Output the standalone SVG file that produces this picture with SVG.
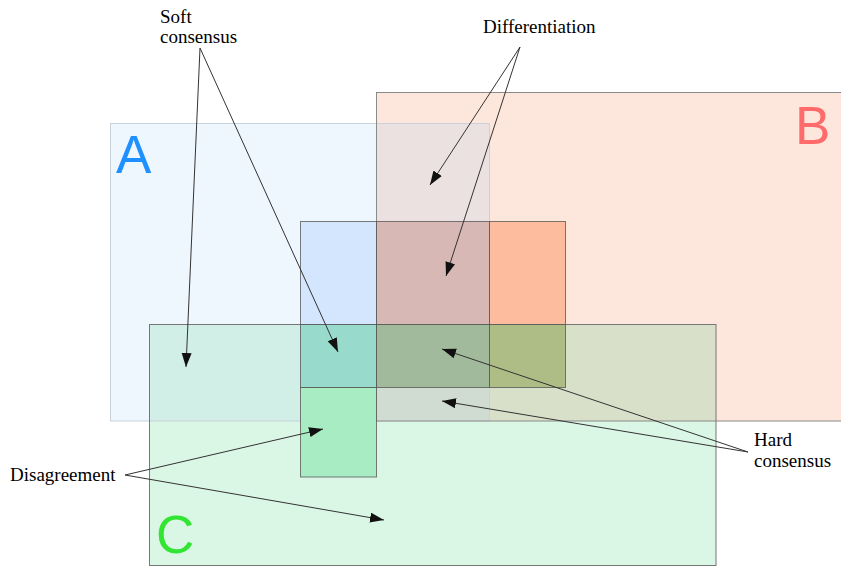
<svg xmlns="http://www.w3.org/2000/svg" width="841" height="568" viewBox="0 0 841 568">
<defs>
<style>
.lbl{font-family:"Liberation Serif","Times New Roman",serif;font-size:19px;fill:#000}
.big{font-family:"Liberation Sans",Arial,sans-serif;font-size:53px}
.edge{fill:none;stroke-width:1}
.cell{stroke:#505050;stroke-opacity:0.75;stroke-width:1}
.conn{fill:none;stroke:#333;stroke-width:1;marker-end:url(#ah)}
</style>
<marker id="ah" markerUnits="userSpaceOnUse" markerWidth="15" markerHeight="11" refX="14" refY="5" orient="auto">
<path d="M0,0 L14,5 L0,10 Z" fill="#111"/>
</marker>
</defs>
<rect width="841" height="568" fill="#fff"/>
<g id="setB">
<rect x="376.5" y="92.5" width="470" height="328.5" fill="#fde6dc"/>
</g>
<g id="setA">
<rect x="110.5" y="123.5" width="379" height="297.5" fill="#eef6fe"/>
<rect x="376.5" y="123.5" width="113" height="297.5" fill="#ebe1e0"/>
</g>
<g id="setC">
<rect x="149.5" y="324.5" width="566.5" height="241" fill="#daf6e5"/>
<rect x="149.5" y="324.5" width="340" height="96.5" fill="#d1efe7"/>
<rect x="489.5" y="324.5" width="226.5" height="96.5" fill="#d9e0ca"/>
<rect x="376.5" y="324.5" width="113" height="96.5" fill="#d0dbd1"/>
</g>
<g id="borders">
<rect class="edge" x="110.5" y="123.5" width="379" height="297.5" stroke="#c9d1d9"/>
<rect class="edge" x="376.5" y="92.5" width="470" height="328.5" stroke="#8a8a8a"/>
<rect class="edge" x="149.5" y="324.5" width="566.5" height="241" stroke="#777"/>
</g>
<g id="cells">
<rect class="cell" x="300.5" y="221.5" width="76" height="103" fill="#d3e6fd"/>
<rect class="cell" x="376.5" y="221.5" width="113" height="103" fill="#d7b8b4"/>
<rect class="cell" x="489.5" y="221.5" width="76" height="103" fill="#fdbc9e"/>
<rect class="cell" x="300.5" y="324.5" width="76" height="63" fill="#98dacc"/>
<rect class="cell" x="376.5" y="324.5" width="113" height="63" fill="#a0ba9b"/>
<rect class="cell" x="489.5" y="324.5" width="76" height="63" fill="#aebd86"/>
<rect class="cell" x="300.5" y="387.5" width="76" height="89.5" fill="#a8ecc4"/>
</g>
<g id="letters">
<text class="big" x="116" y="173" fill="#1e90ff">A</text>
<text class="big" x="795" y="144" fill="#ff6b6b">B</text>
<text class="big" x="156" y="553" fill="#33e533">C</text>
</g>
<g id="connectors">
<line class="conn" x1="200" y1="48" x2="186" y2="367"/>
<line class="conn" x1="200" y1="48" x2="338" y2="352"/>
<line class="conn" x1="520" y1="47" x2="430" y2="185"/>
<line class="conn" x1="520" y1="47" x2="446" y2="276"/>
<line class="conn" x1="748" y1="452" x2="442" y2="349"/>
<line class="conn" x1="748" y1="452" x2="442" y2="401"/>
<line class="conn" x1="125" y1="475" x2="323" y2="429"/>
<line class="conn" x1="125" y1="475" x2="384" y2="520"/>
</g>
<g id="labels">
<text class="lbl" x="160" y="23">Soft</text>
<text class="lbl" x="160" y="43">consensus</text>
<text class="lbl" x="483" y="33">Differentiation</text>
<text class="lbl" x="754" y="446">Hard</text>
<text class="lbl" x="754" y="467">consensus</text>
<text class="lbl" x="10" y="481">Disagreement</text>
</g>
</svg>
